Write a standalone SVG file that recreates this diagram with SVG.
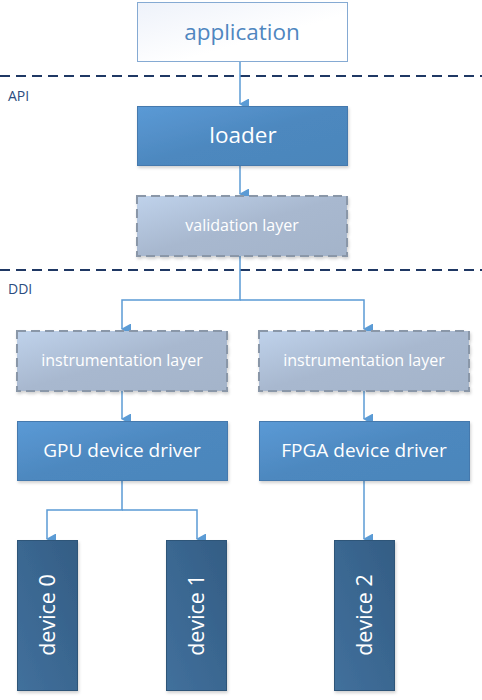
<svg xmlns="http://www.w3.org/2000/svg" width="482" height="700" viewBox="0 0 482 700">
<defs>
<linearGradient id="gApp" x1="0" y1="0" x2="1" y2="1"><stop offset="0" stop-color="#eef2fa"/><stop offset="0.6" stop-color="#ffffff"/></linearGradient>
<linearGradient id="gBlue" x1="0" y1="0" x2="1" y2="1"><stop offset="0" stop-color="#5b9ad6"/><stop offset="0.5" stop-color="#4d88bf"/><stop offset="1" stop-color="#4b86bb"/></linearGradient>
<linearGradient id="gGray" x1="0" y1="0" x2="1" y2="1"><stop offset="0" stop-color="#bfd2eb"/><stop offset="0.5" stop-color="#a8b8cf"/><stop offset="1" stop-color="#a4b4ca"/></linearGradient>
<linearGradient id="gDark" x1="0" y1="1" x2="1" y2="0"><stop offset="0" stop-color="#42709c"/><stop offset="0.5" stop-color="#3a6791"/><stop offset="1" stop-color="#345d84"/></linearGradient>
<filter id="sh" x="-10%" y="-10%" width="130%" height="130%"><feDropShadow dx="1" dy="2" stdDeviation="1.5" flood-color="#000" flood-opacity="0.18"/></filter>
<marker id="arr" markerWidth="11" markerHeight="10" refX="5.5" refY="9" orient="auto" markerUnits="userSpaceOnUse" viewBox="0 0 11 10"><path d="M0,0 L11,0 L5.5,10 Z" fill="#5b9bd5"/></marker>
</defs>
<style>
text{font-family:"Open Sans","Noto Sans","DejaVu Sans",sans-serif;text-anchor:middle;dominant-baseline:central}
.sep{stroke:#1f3864;stroke-width:2;stroke-dasharray:10,6;fill:none}
.lbl{fill:#2b4c80;font-size:14px;text-anchor:start}
.app{fill:url(#gApp);stroke:#85aad3;stroke-width:1}
.blue{fill:url(#gBlue);stroke:#4479ad;stroke-width:1;filter:url(#sh)}
.gray{fill:url(#gGray);stroke:#8a97a8;stroke-width:2;stroke-dasharray:9,5;filter:url(#sh)}
.dark{fill:url(#gDark);stroke:#2f5478;stroke-width:1;filter:url(#sh)}
.con{stroke:#5b9bd5;stroke-width:1.5;fill:none}
.w{fill:#ffffff}
</style>
<line class="sep" x1="0" y1="76" x2="482" y2="76"/>
<line class="sep" x1="0" y1="270" x2="482" y2="270"/>
<text class="lbl" x="8" y="95">API</text>
<text class="lbl" x="8" y="288">DDI</text>
<g id="connectors">
<path class="con" d="M240,61 V104" marker-end="url(#arr)"/>
<path class="con" d="M240,166 V194" marker-end="url(#arr)"/>
<path class="con" d="M240,256 V300 H122 V329" marker-end="url(#arr)"/>
<path class="con" d="M240,300 H364 V329" marker-end="url(#arr)"/>
<path class="con" d="M122,391 V419" marker-end="url(#arr)"/>
<path class="con" d="M364,391 V419" marker-end="url(#arr)"/>
<path class="con" d="M122,480 V510 H47 V539" marker-end="url(#arr)"/>
<path class="con" d="M122,510 H197 V539" marker-end="url(#arr)"/>
<path class="con" d="M364,480 V539" marker-end="url(#arr)"/>
</g>
<g id="application"><rect class="app" x="137.5" y="2.5" width="210" height="59"/><text x="242" y="31" fill="#4f86c0" font-size="22.5">application</text></g>
<g id="loader"><rect class="blue" x="137.5" y="106.5" width="210" height="59"/><text class="w" x="243" y="134" font-size="22.5">loader</text></g>
<g id="validation"><rect class="gray" x="137" y="196" width="210" height="60"/><text class="w" x="242" y="225" font-size="16">validation layer</text></g>
<g id="instr-left"><rect class="gray" x="17" y="331" width="210" height="60"/><text class="w" x="122" y="360" font-size="16">instrumentation layer</text></g>
<g id="instr-right"><rect class="gray" x="259" y="331" width="210" height="60"/><text class="w" x="364" y="360" font-size="16">instrumentation layer</text></g>
<g id="gpu"><rect class="blue" x="17.5" y="421.5" width="210" height="59"/><text class="w" x="122" y="450" font-size="19">GPU device driver</text></g>
<g id="fpga"><rect class="blue" x="259.5" y="421.5" width="210" height="59"/><text class="w" x="364" y="450" font-size="19">FPGA device driver</text></g>
<g id="device0"><rect class="dark" x="17.5" y="540.5" width="60" height="150"/><text class="w" font-size="21.5" transform="translate(46,615) rotate(-90)">device 0</text></g>
<g id="device1"><rect class="dark" x="166.5" y="540.5" width="60" height="150"/><text class="w" font-size="21.5" transform="translate(195,615) rotate(-90)">device 1</text></g>
<g id="device2"><rect class="dark" x="334.5" y="540.5" width="60" height="150"/><text class="w" font-size="21.5" transform="translate(363,615) rotate(-90)">device 2</text></g>
</svg>
